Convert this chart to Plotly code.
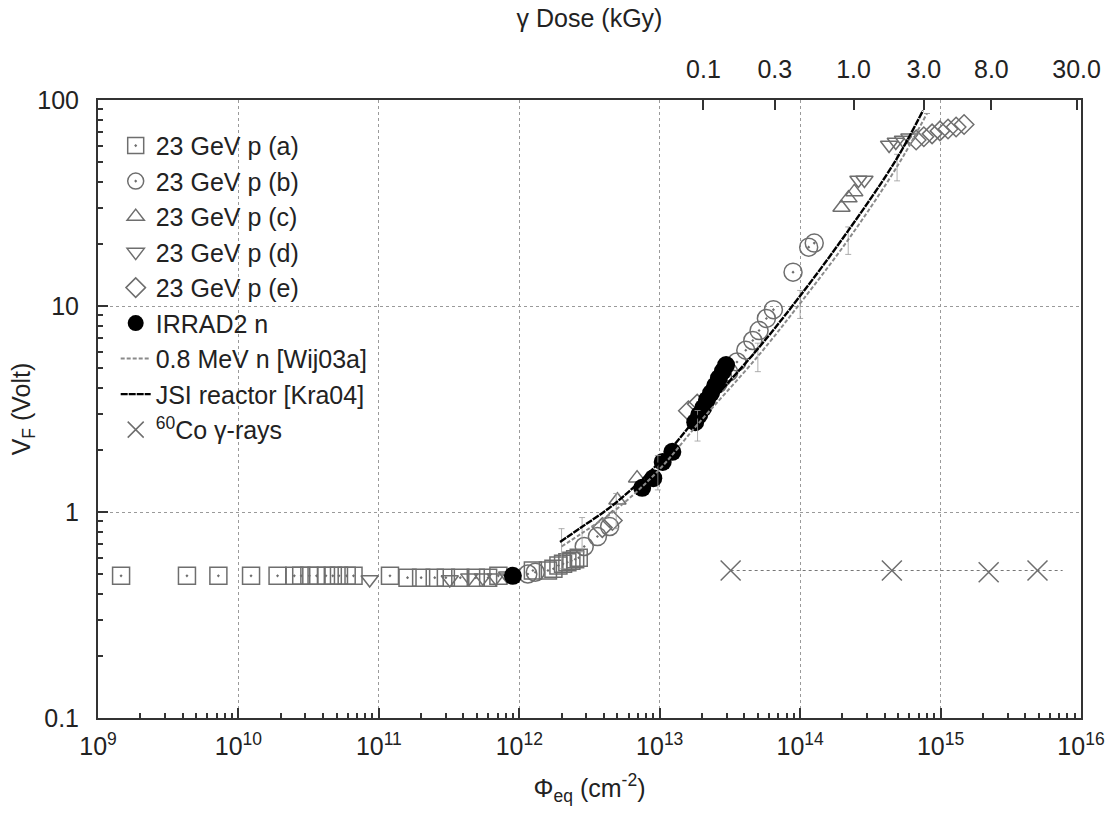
import plotly.graph_objects as go

# ---------------- data ----------------
a_x = [1.46e9, 4.3e9, 7.2e9, 1.23e10, 1.9e10, 2.5e10, 2.8e10, 3.2e10, 3.6e10, 4.2e10, 4.7e10,
       5.2e10, 5.9e10, 6.6e10, 1.2e11, 1.6e11, 2.0e11, 2.5e11, 3.0e11, 3.8e11, 4.9e11, 6.0e11,
       7.1e11, 1.25e12, 1.6e12, 1.75e12, 1.9e12, 2.05e12, 2.2e12, 2.35e12, 2.5e12, 2.65e12]
a_y = [0.49, 0.49, 0.49, 0.49, 0.49, 0.49, 0.49, 0.49, 0.49, 0.49, 0.49,
       0.49, 0.49, 0.49, 0.49, 0.48, 0.48, 0.48, 0.48, 0.48, 0.48, 0.48,
       0.49, 0.52, 0.52, 0.53, 0.55, 0.56, 0.57, 0.58, 0.59, 0.60]

b_x = [1.15e12, 1.3e12, 2.9e12, 3.6e12, 4.4e12, 2.6e13, 2.8e13, 3.1e13, 3.55e13, 4.1e13, 4.6e13,
       5.1e13, 5.75e13, 6.45e13, 8.9e13, 1.15e14, 1.26e14]
b_y = [0.50, 0.51, 0.68, 0.76, 0.85, 4.2, 4.5, 4.78, 5.35, 6.1, 6.8,
       7.6, 8.7, 9.6, 14.6, 19.3, 20.2]

c_x = [5.0e12, 6.9e12, 1.97e14, 2.21e14, 2.43e14]
c_y = [1.14, 1.46, 30.1, 33.4, 35.8]

d_x = [8.6e10, 3.2e11, 4.4e11, 5.5e11, 6.8e11, 8.2e11, 2.6e14, 2.87e14, 4.3e14, 4.8e14, 5.4e14, 6.0e14]
d_y = [0.47, 0.47, 0.48, 0.48, 0.48, 0.49, 40.9, 40.9, 60.5, 62.5, 64.0, 65.5]

e_x = [3.9e12, 4.6e12, 1.6e13, 1.85e13, 6.7e14, 7.6e14, 8.7e14, 9.9e14, 1.13e15, 1.29e15, 1.47e15]
e_y = [0.84, 0.91, 3.1, 3.34, 64.0, 66.3, 68.5, 70.8, 72.3, 74.0, 76.0]

irrad_x = [9.0e11, 7.5e12, 9.0e12, 1.05e13, 1.23e13, 1.79e13, 1.91e13, 2.04e13, 2.17e13,
           2.32e13, 2.48e13, 2.64e13, 2.82e13, 2.97e13]
irrad_y = [0.49, 1.31, 1.46, 1.75, 1.96, 2.73, 2.96, 3.2, 3.5, 3.78, 4.1, 4.47, 4.83, 5.17]

wij_x = [2.0e12, 2.8e12, 4.9e12, 9.7e12, 1.86e13, 5.0e13, 1.0e14, 2.2e14, 4.9e14, 8.0e14]
wij_y = [0.68, 0.79, 1.03, 1.58, 2.66, 5.7, 10.3, 21.0, 47.5, 86.0]
wij_err = [0.15, 0.15, 0.20, 0.30, 0.45, 0.9, 1.6, 3.2, 7.0, 0.0]

kra_x = [1.95e12, 2.75e12, 4.8e12, 9.5e12, 1.82e13, 4.9e13, 9.8e13, 2.14e14, 4.8e14, 7.5e14]
kra_y = [0.715, 0.84, 1.10, 1.69, 2.85, 6.1, 11.0, 22.6, 51.0, 89.0]

co_x = [3.2e13, 4.5e14, 2.2e15, 4.9e15]
co_y = [0.52, 0.52, 0.51, 0.52]
co_line_x = [3.2e13, 7.4e15]
co_line_y = [0.52, 0.52]

# top axis: gamma dose (kGy) labels and their equivalent-fluence positions
dose_labels = ["0.1", "0.3", "1.0", "3.0", "8.0", "30.0"]
dose_pos = [2.05e13, 6.6e13, 2.4e14, 7.6e14, 2.3e15, 9.3e15]

x_major = [1e9, 1e10, 1e11, 1e12, 1e13, 1e14, 1e15, 1e16]
x_major_text = ["10<sup>9</sup>", "10<sup>10</sup>", "10<sup>11</sup>", "10<sup>12</sup>",
                "10<sup>13</sup>", "10<sup>14</sup>", "10<sup>15</sup>", "10<sup>16</sup>"]
y_major = [0.1, 1, 10, 100]
y_major_text = ["0.1", "1", "10", "100"]

# ---------------- figure ----------------
FONT = "Liberation Sans, Arial, sans-serif"
GRAY = "#6e6e6e"
MS = 17
FS = 25

fig = go.Figure()

def open_marker(sym, size=MS, color=GRAY):
    return dict(symbol=sym, size=size, color=color, line=dict(color=color, width=1.5))

fig.add_trace(go.Scatter(x=a_x, y=a_y, mode="markers", name="23 GeV p (a)", legendgroup="a",
                         marker=open_marker("square-open-dot")))
fig.add_trace(go.Scatter(x=b_x, y=b_y, mode="markers", name="23 GeV p (b)", legendgroup="b",
                         marker=open_marker("circle-open-dot", 18)))
fig.add_trace(go.Scatter(x=c_x, y=c_y, mode="markers", name="23 GeV p (c)", legendgroup="c",
                         marker=open_marker("triangle-up-open", 15)))
fig.add_trace(go.Scatter(x=d_x, y=d_y, mode="markers", name="23 GeV p (d)", legendgroup="d",
                         marker=open_marker("triangle-down-open", 15)))
fig.add_trace(go.Scatter(x=e_x, y=e_y, mode="markers", name="23 GeV p (e)", legendgroup="e",
                         marker=open_marker("diamond-open", 15)))
fig.add_trace(go.Scatter(x=irrad_x, y=irrad_y, mode="markers", name="IRRAD2 n", legendgroup="f",
                         marker=dict(symbol="circle", size=18, color="black")))
fig.add_trace(go.Scatter(x=wij_x, y=wij_y, mode="lines", name="0.8 MeV n [Wij03a]", legendgroup="g",
                         line=dict(color="#8a8a8a", width=2, dash="4px,2px", shape="spline"),
                         error_y=dict(type="data", array=wij_err, color="#9a9a9a",
                                      thickness=0.8, width=3)))
fig.add_trace(go.Scatter(x=kra_x, y=kra_y, mode="lines", name="JSI reactor [Kra04]", legendgroup="h",
                         line=dict(color="black", width=2.4, dash="7px,1px", shape="spline")))
fig.add_trace(go.Scatter(x=co_line_x, y=co_line_y, mode="lines", showlegend=False,
                         line=dict(color="#777777", width=1.2, dash="dot"), hoverinfo="skip"))
fig.add_trace(go.Scatter(x=co_x, y=co_y, mode="markers", name="<sup>60</sup>Co γ-rays", legendgroup="i",
                         marker=dict(symbol="x-thin-open", size=20, color=GRAY,
                                     line=dict(color=GRAY, width=1.5))))

# invisible trace anchoring the top (dose) axis
fig.add_trace(go.Scatter(x=dose_pos, y=[1] * len(dose_pos), xaxis="x2", mode="markers",
                         marker=dict(opacity=0), showlegend=False, hoverinfo="skip"))

x_minor = [m * 10 ** k for k in range(9, 16) for m in range(2, 10)]
y_minor = [m * 10 ** k for k in range(-1, 2) for m in range(2, 10)]

fig.update_layout(
    width=1117, height=819,
    margin=dict(l=98, r=31, t=100, b=101),
    paper_bgcolor="white", plot_bgcolor="white",
    font=dict(family=FONT, size=FS, color="#222222"),
    xaxis=dict(type="log", range=[9, 16], tickvals=x_major, ticktext=x_major_text,
               ticks="inside", ticklen=10, tickwidth=1.5, tickcolor="#333",
               showline=True, linecolor="#333", linewidth=2, mirror=True,
               showgrid=True, gridcolor="#9a9a9a", griddash="dot", gridwidth=1,
               zeroline=False, tickfont=dict(size=FS), ticklabelstandoff=5,
               minor=dict(tickvals=x_minor, ticks="inside", ticklen=5, tickcolor="#333",
                          showgrid=False),
               title=dict(text="Φ<sub>eq</sub> (cm<sup>-2</sup>)", font=dict(size=FS), standoff=20)),
    xaxis2=dict(type="log", range=[9, 16], overlaying="x", side="top", anchor="y",
                tickvals=dose_pos, ticktext=dose_labels, ticks="inside", ticklen=10,
                tickwidth=1.5, tickcolor="#333", showgrid=False, showline=False,
                tickfont=dict(size=FS), ticklabelstandoff=16,
                title=dict(text="γ Dose (kGy)", font=dict(size=FS), standoff=20)),
    yaxis=dict(type="log", range=[-1, 2], tickvals=y_major, ticktext=y_major_text,
               ticks="inside", ticklen=10, tickwidth=1.5, tickcolor="#333",
               showline=True, linecolor="#333", linewidth=2, mirror=True,
               showgrid=True, gridcolor="#9a9a9a", griddash="dot", gridwidth=1,
               zeroline=False, tickfont=dict(size=FS), ticklabelstandoff=12,
               minor=dict(tickvals=y_minor, ticks="inside", ticklen=5, tickcolor="#333",
                          showgrid=False),
               title=dict(text="V<sub>F</sub> (Volt)", font=dict(size=FS), standoff=0)),
    legend=dict(x=0.018, y=0.963, xanchor="left", yanchor="top", bgcolor="rgba(0,0,0,0)",
                font=dict(size=FS, color="#222222"), itemsizing="trace", tracegroupgap=0),
    shapes=[dict(type="rect", xref="paper", yref="paper", x0=0.001, x1=0.505, y0=0.415, y1=0.963,
                 fillcolor="white", line=dict(width=0), layer="between")],
    showlegend=True,
)

fig.write_html("out.html")
